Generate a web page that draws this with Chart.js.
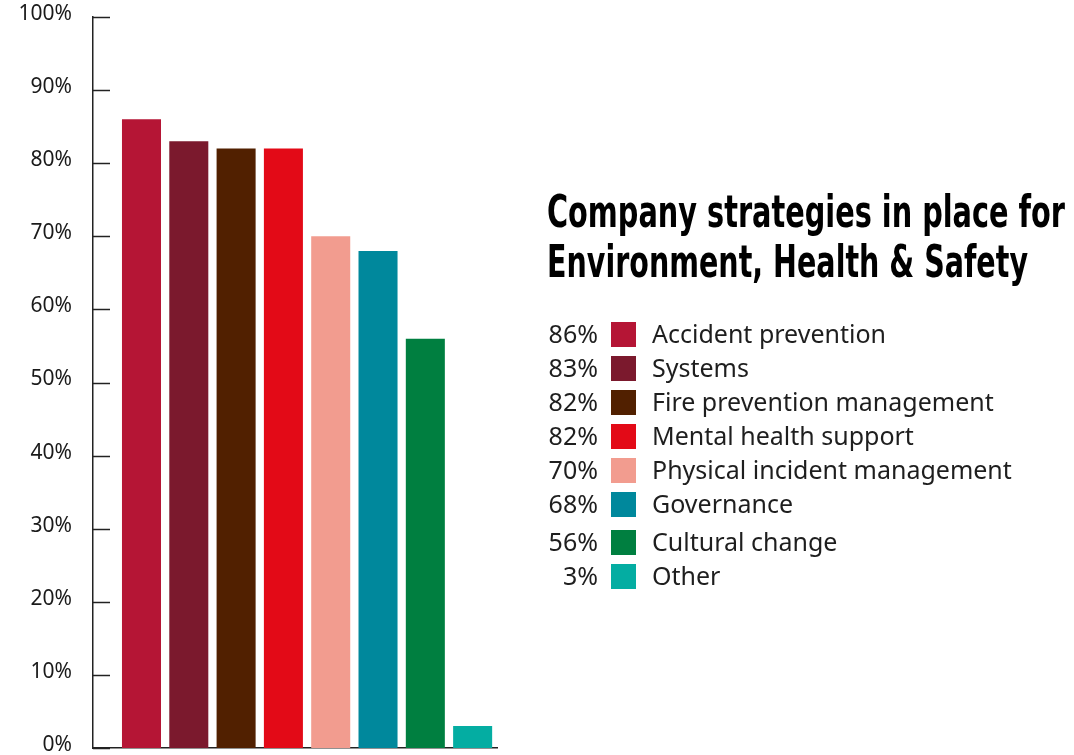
<!DOCTYPE html>
<html>
<head>
<meta charset="utf-8">
<script src="https://cdn.jsdelivr.net/npm/chart.js@4.4.1/dist/chart.umd.min.js"></script>
<style>
  html, body { margin: 0; padding: 0; background: #fff; }
  #wrap { position: relative; width: 1074px; height: 755px; overflow: hidden; }
  #chart { position: absolute; left: 0; top: 0; }
  .title {
    position: absolute; left: 547px;
    font-family: "Liberation Sans Narrow", "DejaVu Sans Condensed", sans-serif;
    font-weight: 700; font-size: 44px; line-height: 1; color: #000;
    white-space: nowrap; transform-origin: 0 0; display: inline-block;
  }
  #legend { position: absolute; left: 530px; top: 321px; font-family: "Noto Sans", "Open Sans", sans-serif; }
  .row { position: relative; height: 34px; }
  .row .pct { position: absolute; left: -2px; width: 70px; text-align: right; font-size: 25px; line-height: 25px; color: #1e1e1e; }
  .row .sw { position: absolute; left: 81px; top: 1px; width: 25px; height: 25px; }
  .row .lbl { position: absolute; left: 122px; font-size: 25px; line-height: 25px; color: #1e1e1e; white-space: nowrap; }
</style>
</head>
<body>
<div id="wrap">
  <canvas id="chart" width="1074" height="755"></canvas>
  <span class="title" id="t1" style="top:190px">Company strategies in place for</span>
  <span class="title" id="t2" style="top:240px">Environment, Health &amp; Safety</span>
  <div id="legend"></div>
</div>
<script>
// Survey data
const categories = [
  'Accident prevention',
  'Systems',
  'Fire prevention management',
  'Mental health support',
  'Physical incident management',
  'Governance',
  'Cultural change',
  'Other'
];
const shares = [86, 83, 82, 82, 70, 68, 56, 3];
const colors = ['#B51535', '#7B192D', '#512000', '#E30A17', '#F29C8F', '#00889C', '#007F40', '#04ADA2'];
const yTicks = [0, 10, 20, 30, 40, 50, 60, 70, 80, 90, 100];

// Title: squeeze each line to the width of the heading block
function fitTitle(id, width) {
  const el = document.getElementById(id);
  const w = el.getBoundingClientRect().width;
  el.style.transform = 'scaleX(' + (width / w) + ')';
}
fitTitle('t1', 518);
fitTitle('t2', 481);

// Legend with percentages
const legend = document.getElementById('legend');
categories.forEach((name, i) => {
  const row = document.createElement('div');
  row.className = 'row';
  if (i === 6) row.style.marginTop = '4px';
  row.innerHTML =
    `<span class="pct">${shares[i]}%</span>` +
    `<span class="sw" style="background:${colors[i]}"></span>` +
    `<span class="lbl">${name}</span>`;
  legend.appendChild(row);
});

// short tick marks on the inside of the y axis
const innerTicks = {
  id: 'innerTicks',
  afterDraw(chart) {
    const { ctx, scales: { y }, chartArea } = chart;
    ctx.save();
    ctx.strokeStyle = '#222';
    ctx.lineWidth = 1.5;
    yTicks.forEach(v => {
      const py = Math.round(y.getPixelForValue(v)) + 0.5;
      ctx.beginPath();
      ctx.moveTo(chartArea.left, py);
      ctx.lineTo(chartArea.left + 17, py);
      ctx.stroke();
    });
    ctx.restore();
  }
};

const ctx = document.getElementById('chart').getContext('2d');
new Chart(ctx, {
  type: 'bar',
  data: {
    datasets: [{
      data: shares.map((v, i) => ({ x: i + 1, y: v })),
      backgroundColor: colors,
      borderWidth: 0,
      categoryPercentage: 1,
      barPercentage: 0.825
    }]
  },
  options: {
    responsive: false,
    animation: false,
    layout: { padding: { left: 0, top: 17, right: 577, bottom: 7 } },
    plugins: { legend: { display: false }, tooltip: { enabled: false } },
    scales: {
      x: {
        type: 'linear',
        offset: false,
        min: -0.025,
        max: 8.515,
        grid: { display: false, drawTicks: false, offset: false },
        border: { display: true, color: '#222', width: 1.5 },
        ticks: { display: false },
        afterFit(scale) { scale.height = 0; scale.paddingLeft = 0; scale.paddingRight = 0; }
      },
      y: {
        min: 0,
        max: 100,
        afterBuildTicks(scale) { scale.ticks = yTicks.map(v => ({ value: v })); },
        grid: { display: false, drawTicks: false },
        border: { display: true, color: '#222', width: 1.5 },
        ticks: {
          padding: 21,
          labelOffset: -3,
          color: '#1a1a1a',
          font: { family: '"Noto Sans", "Open Sans", sans-serif', size: 21 },
          callback: v => v + '%'
        },
        afterFit(scale) { scale.width = 93; scale.paddingTop = 0; scale.paddingBottom = 0; }
      }
    }
  },
  plugins: [innerTicks]
});
</script>
</body>
</html>
